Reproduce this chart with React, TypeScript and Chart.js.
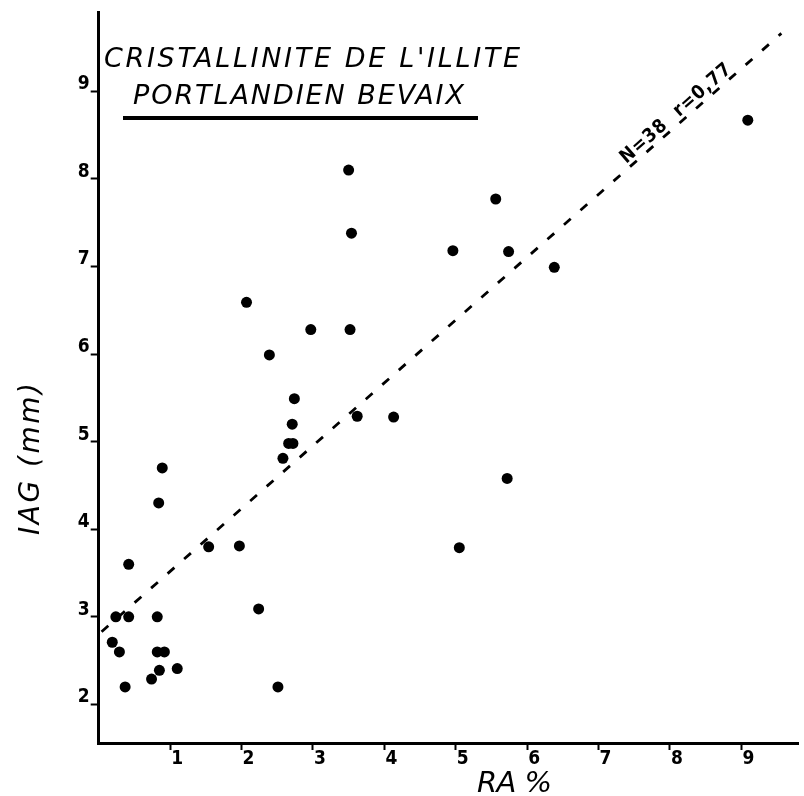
import React, { useEffect, useRef } from "react";
import { Chart, registerables } from "chart.js";

Chart.register(...registerables);

// ---- data ----
const raPercent = [
  3.5, 3.54, 2.07, 2.97, 3.52, 2.39, 2.74, 2.71, 2.66, 2.72, 3.62, 4.13, 2.58,
  0.89, 0.84, 0.42, 1.54, 1.97, 9.09, 5.56, 4.96, 5.74, 6.38, 5.72, 5.05, 0.24,
  0.42, 0.82, 0.19, 0.29, 0.82, 0.92, 0.85, 0.74, 1.1, 0.37, 2.24, 2.51,
];
const iagMm = [
  8.1, 7.38, 6.59, 6.28, 6.28, 5.99, 5.49, 5.2, 4.98, 4.98, 5.29, 5.28, 4.81,
  4.7, 4.3, 3.6, 3.8, 3.81, 8.67, 7.77, 7.18, 7.17, 6.99, 4.58, 3.79, 3.0, 3.0,
  3.0, 2.71, 2.6, 2.6, 2.6, 2.39, 2.29, 2.41, 2.2, 3.09, 2.2,
];
const trendX = [0.04, 9.56];
const trendY = [2.83, 9.66];
const xTickValues = [1, 2, 3, 4, 5, 6, 7, 8, 9];
const yTickValues = [2, 3, 4, 5, 6, 7, 8, 9];
const titleLines = ["CRISTALLINITE DE L'ILLITE", "PORTLANDIEN BEVAIX"];
const xAxisTitle = "RA %";
const yAxisTitle = "IAG (mm)";
const fitLabel = "N=38  r=0,77";
const fitLabelX = 8.12;
const fitLabelY = 8.71;

const NUM_FONT = '"DejaVu Sans Condensed", "Liberation Sans Narrow", "DejaVu Sans", sans-serif';
const TXT_FONT = '"DejaVu Sans", "Liberation Sans", sans-serif';

function drawFitted(
  ctx: CanvasRenderingContext2D,
  text: string,
  x: number,
  y: number,
  targetW: number,
  font: string
) {
  ctx.font = font;
  (ctx as any).letterSpacing = "0px";
  const w = ctx.measureText(text).width;
  const n = Array.from(text).length;
  const ls = n > 1 ? (targetW - w) / (n - 1) : 0;
  (ctx as any).letterSpacing = ls + "px";
  ctx.fillText(text, x, y);
  (ctx as any).letterSpacing = "0px";
}

const textPlugin = {
  id: "textPlugin",
  afterDraw(chart: any) {
    const ctx: CanvasRenderingContext2D = chart.ctx;
    const xs = chart.scales.x;
    const ys = chart.scales.y;
    ctx.save();
    ctx.fillStyle = "#000";
    ctx.textAlign = "left";
    ctx.textBaseline = "alphabetic";

    // title block
    drawFitted(ctx, titleLines[0], 104, 67, 416, `italic 27px ${TXT_FONT}`);
    drawFitted(ctx, titleLines[1], 133, 104, 331, `italic 27px ${TXT_FONT}`);
    ctx.fillRect(123, 116, 355, 4);

    // x-axis title
    drawFitted(ctx, xAxisTitle, 477, 792, 75, `italic 29px ${TXT_FONT}`);

    // y-axis title (rotated)
    ctx.save();
    ctx.translate(39, 535);
    ctx.rotate(-Math.PI / 2);
    drawFitted(ctx, yAxisTitle, 0, 0, 152, `italic 28px ${TXT_FONT}`);
    ctx.restore();

    // regression label along the line, sitting just above it
    const x0 = xs.getPixelForValue(trendX[0]);
    const y0 = ys.getPixelForValue(trendY[0]);
    const x1 = xs.getPixelForValue(trendX[1]);
    const y1 = ys.getPixelForValue(trendY[1]);
    const ang = Math.atan2(y1 - y0, x1 - x0);
    const cx = xs.getPixelForValue(fitLabelX);
    const cy = ys.getPixelForValue(fitLabelY);
    ctx.save();
    ctx.translate(cx, cy);
    ctx.rotate(ang);
    ctx.textBaseline = "alphabetic";
    const w = 141;
    drawFitted(ctx, fitLabel, -w / 2, 1, w, `bold 19px ${NUM_FONT}`);
    ctx.restore();

    ctx.restore();
  },
};

export default function App() {
  const ref = useRef<HTMLCanvasElement | null>(null);

  useEffect(() => {
    if (!ref.current) return;
    const points = raPercent.map((x, i) => ({ x, y: iagMm[i] }));
    const trend = trendX.map((x, i) => ({ x, y: trendY[i] }));
    const chart = new Chart(ref.current, {
      type: "scatter",
      data: {
        datasets: [
          {
            type: "line",
            data: trend,
            borderColor: "#000",
            borderWidth: 2.8,
            borderDash: [9, 13],
            pointRadius: 0,
            fill: false,
          } as any,
          {
            data: points,
            backgroundColor: "#000",
            borderColor: "#000",
            borderWidth: 0,
            pointRadius: 5.5,
            pointHoverRadius: 5.5,
          },
        ],
      },
      options: {
        animation: false,
        responsive: false,
        devicePixelRatio: 1,
        layout: { padding: { top: 12, left: 0, right: 0, bottom: 0 } },
        plugins: {
          legend: { display: false },
          tooltip: { enabled: false },
          title: { display: false },
        },
        scales: {
          x: {
            type: "linear",
            min: 0,
            max: 9.8,
            afterBuildTicks: (scale: any) => {
              scale.ticks = xTickValues.map((v) => ({ value: v }));
            },
            afterFit: (scale: any) => {
              scale.height = 53;
            },
            border: { display: true, color: "#000", width: 3 },
            grid: {
              drawOnChartArea: false,
              drawTicks: true,
              tickLength: 7,
              tickWidth: 2,
              tickColor: "#000",
            },
            ticks: {
              color: "#000",
              padding: -2,
              labelOffset: 7,
              maxRotation: 0,
              autoSkip: false,
              font: { family: NUM_FONT, size: 19, weight: "bold" },
              callback: (v: any) => String(v),
            },
          },
          y: {
            type: "linear",
            min: 1.56,
            max: 9.9,
            afterBuildTicks: (scale: any) => {
              scale.ticks = yTickValues.map((v) => ({ value: v }));
            },
            afterFit: (scale: any) => {
              scale.width = 98.7;
            },
            border: { display: true, color: "#000", width: 3 },
            grid: {
              drawOnChartArea: false,
              drawTicks: true,
              tickLength: 8,
              tickWidth: 2,
              tickColor: "#000",
            },
            ticks: {
              color: "#000",
              padding: 1,
              labelOffset: -7,
              autoSkip: false,
              font: { family: NUM_FONT, size: 19, weight: "bold" },
              callback: (v: any) => String(v),
            },
          },
        },
      },
      plugins: [textPlugin],
    });
    return () => chart.destroy();
  }, []);

  return (
    <div style={{ position: "absolute", left: 0, top: 0, width: 804, height: 796, background: "#fff" }}>
      <canvas ref={ref} width={804} height={796} style={{ width: 804, height: 796, display: "block" }} />
    </div>
  );
}
